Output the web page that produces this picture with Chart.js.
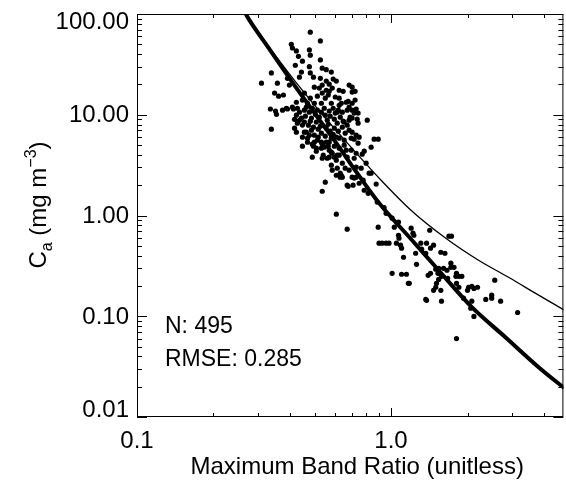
<!DOCTYPE html>
<html>
<head>
<meta charset="utf-8">
<script src="https://cdn.jsdelivr.net/npm/chart.js@4/dist/chart.umd.min.js"></script>
<style>
  html, body { margin: 0; padding: 0; background: #fff; }
</style>
</head>
<body>
<canvas id="grafic" width="566" height="480"></canvas>
<script>
// in situ samples: [max band ratio, chlorophyll a (mg m^-3)]
const samples = [
  [0.481, 66], [0.527, 54], [0.405, 50], [0.409, 46], [0.424, 43], [0.477, 44],
  [0.481, 39], [0.432, 38], [0.448, 34], [0.527, 35], [0.420, 31], [0.477, 30],
  [0.536, 29], [0.556, 28], [0.582, 26.5], [0.444, 26.5], [0.436, 23.6], [0.481, 26],
  [0.495, 23.6], [0.338, 26], [0.309, 20.6], [0.357, 20.6], [0.391, 23], [0.398, 19.7],
  [0.348, 16.4], [0.361, 15.3], [0.377, 15.7], [0.527, 23], [0.536, 19.7], [0.556, 21.6],
  [0.571, 20.1], [0.592, 22.6], [0.609, 21.6], [0.522, 18.4], [0.556, 17.5], [0.571, 17.1],
  [0.587, 18.4], [0.625, 17.5], [0.499, 18.8], [0.536, 16.4], [0.566, 15.7], [0.603, 15.0],
  [0.456, 16.4], [0.424, 13.3], [0.481, 14.6], [0.499, 13.0], [0.532, 13.0], [0.582, 13.0],
  [0.637, 13.0], [0.684, 19.7], [0.703, 18.8], [0.722, 17.1], [0.648, 17.1], [0.666, 13.3],
  [0.722, 14.0], [0.703, 16.8],
  [0.464, 11.9], [0.387, 11.6], [0.409, 11.9], [0.335, 11.4], [0.351, 10.9], [0.354, 10.1],
  [0.374, 11.1], [0.391, 11.4], [0.413, 11.4], [0.428, 11.6], [0.424, 9.9], [0.417, 9.0],
  [0.436, 8.8], [0.428, 8.25], [0.448, 7.9], [0.456, 8.45], [0.417, 7.36], [0.338, 7.19],
  [0.464, 6.72], [0.486, 7.03], [0.477, 6.27], [0.499, 6.27], [0.517, 5.99], [0.469, 5.86],
  [0.448, 4.88], [0.499, 5.34], [0.508, 4.66], [0.532, 5.34], [0.556, 5.34], [0.582, 5.86],
  [0.609, 5.99], [0.625, 5.86], [0.436, 10.6], [0.424, 6.72], [0.456, 6.72], [0.448, 5.99],
  [0.469, 5.34], [0.495, 4.88], [0.508, 4.35], [0.532, 4.66], [0.541, 3.97], [0.571, 3.79],
  [0.587, 4.15], [0.625, 3.97], [0.666, 4.45], [0.672, 3.79], [0.490, 3.79], [0.536, 3.70],
  [0.561, 3.70], [0.582, 4.25], [0.598, 3.79], [0.614, 3.97], [0.582, 3.16], [0.587, 2.82],
  [0.609, 2.51], [0.631, 2.63], [0.551, 2.14],
  [0.456, 11.1], [0.477, 10.6], [0.490, 11.6], [0.504, 10.1], [0.513, 11.1], [0.522, 9.47],
  [0.532, 10.6], [0.546, 11.6], [0.551, 9.9], [0.561, 8.84], [0.571, 10.9], [0.576, 9.68],
  [0.592, 11.6], [0.598, 9.04], [0.603, 10.4], [0.614, 8.25], [0.620, 11.1], [0.631, 9.47],
  [0.643, 10.6], [0.648, 8.64], [0.486, 9.26], [0.508, 8.45], [0.473, 7.88], [0.495, 7.53],
  [0.517, 7.19], [0.536, 7.88], [0.556, 7.36], [0.576, 6.87], [0.598, 7.36], [0.620, 6.87],
  [0.643, 7.53], [0.532, 6.56], [0.551, 6.13], [0.460, 9.68],
  [0.513, 5.59], [0.546, 4.77], [0.571, 4.45], [0.654, 4.99], [0.643, 3.31], [0.660, 2.95],
  [0.614, 2.95], [0.684, 2.82], [0.763, 2.95], [0.654, 5.59], [0.684, 7.03], [0.672, 7.88],
  [0.444, 9.26], [0.469, 13.0], [0.448, 14.0], [0.551, 14.6], [0.513, 15.3], [0.614, 10.6],
  [0.566, 8.05], [0.527, 7.7], [0.481, 8.64], [0.592, 6.4], [0.566, 4.88], [0.625, 4.66],
  [0.625, 14.6], [0.678, 13.6], [0.703, 13.0], [0.625, 12.4], [0.672, 11.1], [0.703, 11.1],
  [0.716, 10.4], [0.742, 10.4], [0.654, 8.45], [0.684, 8.84], [0.703, 9.26], [0.736, 9.04],
  [0.742, 8.25], [0.806, 8.84], [0.660, 6.56], [0.703, 6.72], [0.697, 5.86], [0.716, 5.72],
  [0.749, 5.99], [0.858, 5.72], [0.890, 5.72], [0.742, 5.22], [0.835, 4.77], [0.697, 4.45],
  [0.784, 4.35], [0.770, 4.06], [0.716, 3.70], [0.798, 3.31], [0.729, 3.02], [0.835, 2.63],
  [0.703, 2.40], [0.729, 2.40], [0.690, 9.47], [0.729, 6.27], [0.729, 4.15], [0.729, 11.4],
  [0.684, 11.9],
  [0.490, 5.10], [0.536, 5.10], [0.571, 5.34], [0.598, 4.88], [0.609, 3.54], [0.637, 2.51],
  [0.716, 2.35], [0.749, 2.09], [0.672, 2.00], [0.709, 2.00], [0.536, 1.74], [0.631, 2.40],
  [0.643, 2.40], [0.678, 1.95], [0.813, 1.66], [0.874, 2.05], [0.820, 2.63], [0.882, 1.36],
  [0.784, 1.78], [0.777, 2.24], [0.939, 1.2],
  [0.956, 1.05], [1.01, 0.94], [1.07, 0.86], [1.03, 0.766], [0.609, 1.03], [0.672, 0.731],
  [0.890, 0.766], [0.897, 0.531], [0.922, 0.531], [0.956, 0.531], [0.982, 0.531], [1.05, 0.531],
  [1.07, 0.637], [1.075, 0.595], [1.09, 0.507], [1.10, 0.474], [1.20, 0.748], [1.23, 0.637],
  [1.12, 0.385], [1.25, 0.422], [1.26, 0.328], [1.01, 0.267], [1.10, 0.261], [1.15, 0.261],
  [1.17, 0.212],
  [1.22, 0.667], [1.42, 0.714], [1.69, 0.623], [1.73, 0.623], [1.31, 0.531], [1.38, 0.531],
  [1.47, 0.507], [1.43, 0.474], [1.32, 0.463], [1.37, 0.422], [1.57, 0.432], [1.63, 0.422],
  [1.72, 0.336], [1.72, 0.306], [1.77, 0.306], [1.50, 0.293], [1.54, 0.299], [1.61, 0.299],
  [1.66, 0.286], [1.43, 0.267], [1.40, 0.255], [1.53, 0.267], [1.58, 0.249], [1.67, 0.238],
  [1.81, 0.267], [1.80, 0.249], [1.85, 0.249], [1.90, 0.249], [1.54, 0.232], [1.51, 0.212],
  [1.50, 0.194], [1.47, 0.181], [1.57, 0.181], [1.81, 0.212], [1.85, 0.194], [2.02, 0.194],
  [2.08, 0.198], [2.12, 0.189], [2.19, 0.194], [2.00, 0.181], [2.56, 0.228], [1.37, 0.147],
  [1.38, 0.144], [1.58, 0.141], [2.08, 0.141], [2.36, 0.147], [2.49, 0.151], [2.49, 0.162],
  [2.70, 0.141], [2.06, 0.120], [2.12, 0.0996], [3.15, 0.109], [1.81, 0.060], [1.18, 0.212],
  [1.93, 0.151]
];

// model curves
const thickRatio = [0.262, 0.268, 0.277, 0.332, 0.417, 0.504, 0.609, 0.736, 0.897, 1.21, 1.50, 2.08, 2.82, 3.81, 4.81];
const thickChl   = [109, 100, 86.9, 44.8, 19.6, 10.1, 5.22, 2.63, 1.33, 0.568, 0.308, 0.123, 0.0619, 0.0312, 0.0193];
const thinRatio  = [0.262, 0.277, 0.338, 0.428, 0.522, 0.637, 0.914, 1.198, 1.643, 2.21, 2.90, 3.81, 4.81];
const thinChl    = [109, 86.9, 43.8, 20.1, 10.9, 6.13, 2.24, 1.13, 0.595, 0.360, 0.244, 0.162, 0.115];

const yTicks = [0.01, 0.1, 1, 10, 100];
const yTickLabels = ["0.01", "0.10", "1.00", "10.00", "100.00"];
const xTicks = [0.1, 1];
const xTickLabels = ["0.1", "1.0"];
const xMinor = [0.2, 0.3, 0.4, 0.5, 0.6, 0.7, 0.8, 0.9, 2, 3, 4];
const notes = ["N: 495", "RMSE: 0.285"];

const FONT = '"Liberation Sans", Arial, Helvetica, sans-serif';

function pairs(xs, ys) {
  return xs.map((v, i) => ({ x: v, y: ys[i] }));
}

const idlFrame = {
  id: "idlFrame",
  afterDraw(chart) {
    const ctx = chart.ctx;
    const a = chart.chartArea;
    const sx = chart.scales.x;
    const sy = chart.scales.y;
    ctx.save();
    ctx.strokeStyle = "#000";
    ctx.lineWidth = 1;
    ctx.strokeRect(a.left + 0.5, a.top + 0.5, a.right - a.left - 1, a.bottom - a.top - 1);

    ctx.beginPath();
    // y ticks, left and right, pointing inward
    const yMinor = [];
    [0.01, 0.1, 1, 10].forEach((d) => {
      for (let m = 2; m <= 9; m++) yMinor.push(d * m);
    });
    yTicks.forEach((v) => {
      const p = Math.round(sy.getPixelForValue(v)) + 0.5;
      ctx.moveTo(a.left, p); ctx.lineTo(a.left + 10, p);
      ctx.moveTo(a.right, p); ctx.lineTo(a.right - 10, p);
    });
    yMinor.forEach((v) => {
      const p = Math.round(sy.getPixelForValue(v)) + 0.5;
      ctx.moveTo(a.left, p); ctx.lineTo(a.left + 5, p);
      ctx.moveTo(a.right, p); ctx.lineTo(a.right - 5, p);
    });
    xTicks.forEach((v) => {
      const p = Math.round(sx.getPixelForValue(v)) + 0.5;
      ctx.moveTo(p, a.bottom); ctx.lineTo(p, a.bottom - 9);
      ctx.moveTo(p, a.top); ctx.lineTo(p, a.top + 9);
    });
    xMinor.forEach((v) => {
      const p = Math.round(sx.getPixelForValue(v)) + 0.5;
      ctx.moveTo(p, a.bottom); ctx.lineTo(p, a.bottom - 4);
      ctx.moveTo(p, a.top); ctx.lineTo(p, a.top + 4);
    });
    ctx.stroke();

    ctx.fillStyle = "#000";
    ctx.font = "24px " + FONT;
    ctx.textAlign = "right";
    ctx.textBaseline = "middle";
    yTicks.forEach((v, i) => {
      let p = sy.getPixelForValue(v);
      p = Math.min(Math.max(p, a.top + 7), a.bottom - 8);
      ctx.fillText(yTickLabels[i], a.left - 8, p + 1);
    });
    ctx.textAlign = "center";
    xTicks.forEach((v, i) => {
      ctx.fillText(xTickLabels[i], sx.getPixelForValue(v), a.bottom + 24);
    });

    ctx.font = "24px " + FONT;
    ctx.textBaseline = "alphabetic";
    ctx.fillText("Maximum Band Ratio (unitless)", (a.left + a.right) / 2 + 7, 474);

    // y title with subscript and superscript
    ctx.save();
    ctx.translate(46, 205);
    ctx.rotate(-Math.PI / 2);
    const parts = [
      { t: "C", f: 24, dy: 0 },
      { t: "a", f: 16, dy: 6 },
      { t: " (mg m", f: 24, dy: 0 },
      { t: "\u22123", f: 16, dy: -10 },
      { t: ")", f: 24, dy: 0 }
    ];
    let total = 0;
    parts.forEach((p) => {
      ctx.font = p.f + "px " + FONT;
      p.w = ctx.measureText(p.t).width;
      total += p.w;
    });
    let cx = -total / 2;
    ctx.textAlign = "left";
    parts.forEach((p) => {
      ctx.font = p.f + "px " + FONT;
      ctx.fillText(p.t, cx, p.dy);
      cx += p.w;
    });
    ctx.restore();

    ctx.font = "23px " + FONT;
    ctx.textAlign = "left";
    ctx.fillText(notes[0], 165, 333);
    ctx.fillText(notes[1], 165, 366);
    ctx.restore();
  }
};

const ctx = document.getElementById("grafic").getContext("2d");
new Chart(ctx, {
  type: "scatter",
  data: {
    datasets: [
      {
        type: "line",
        data: pairs(thinRatio, thinChl),
        borderColor: "#000",
        borderWidth: 1.3,
        pointRadius: 0,
        cubicInterpolationMode: "monotone",
        fill: false
      },
      {
        type: "line",
        data: pairs(thickRatio, thickChl),
        borderColor: "#000",
        borderWidth: 4,
        pointRadius: 0,
        cubicInterpolationMode: "monotone",
        fill: false
      },
      {
        data: samples.map((s) => ({ x: s[0], y: s[1] })),
        backgroundColor: "#000",
        borderWidth: 0,
        pointRadius: 2.6,
        pointHoverRadius: 2.6
      }
    ]
  },
  options: {
    responsive: false,
    animation: false,
    devicePixelRatio: 1,
    layout: { padding: { left: 137, top: 14, right: 1, bottom: 63 } },
    plugins: { legend: { display: false }, tooltip: { enabled: false } },
    scales: {
      x: { type: "logarithmic", min: 0.1, max: 4.77, display: false },
      y: { type: "logarithmic", min: 0.01, max: 100, display: false }
    }
  },
  plugins: [idlFrame]
});
</script>
</body>
</html>
